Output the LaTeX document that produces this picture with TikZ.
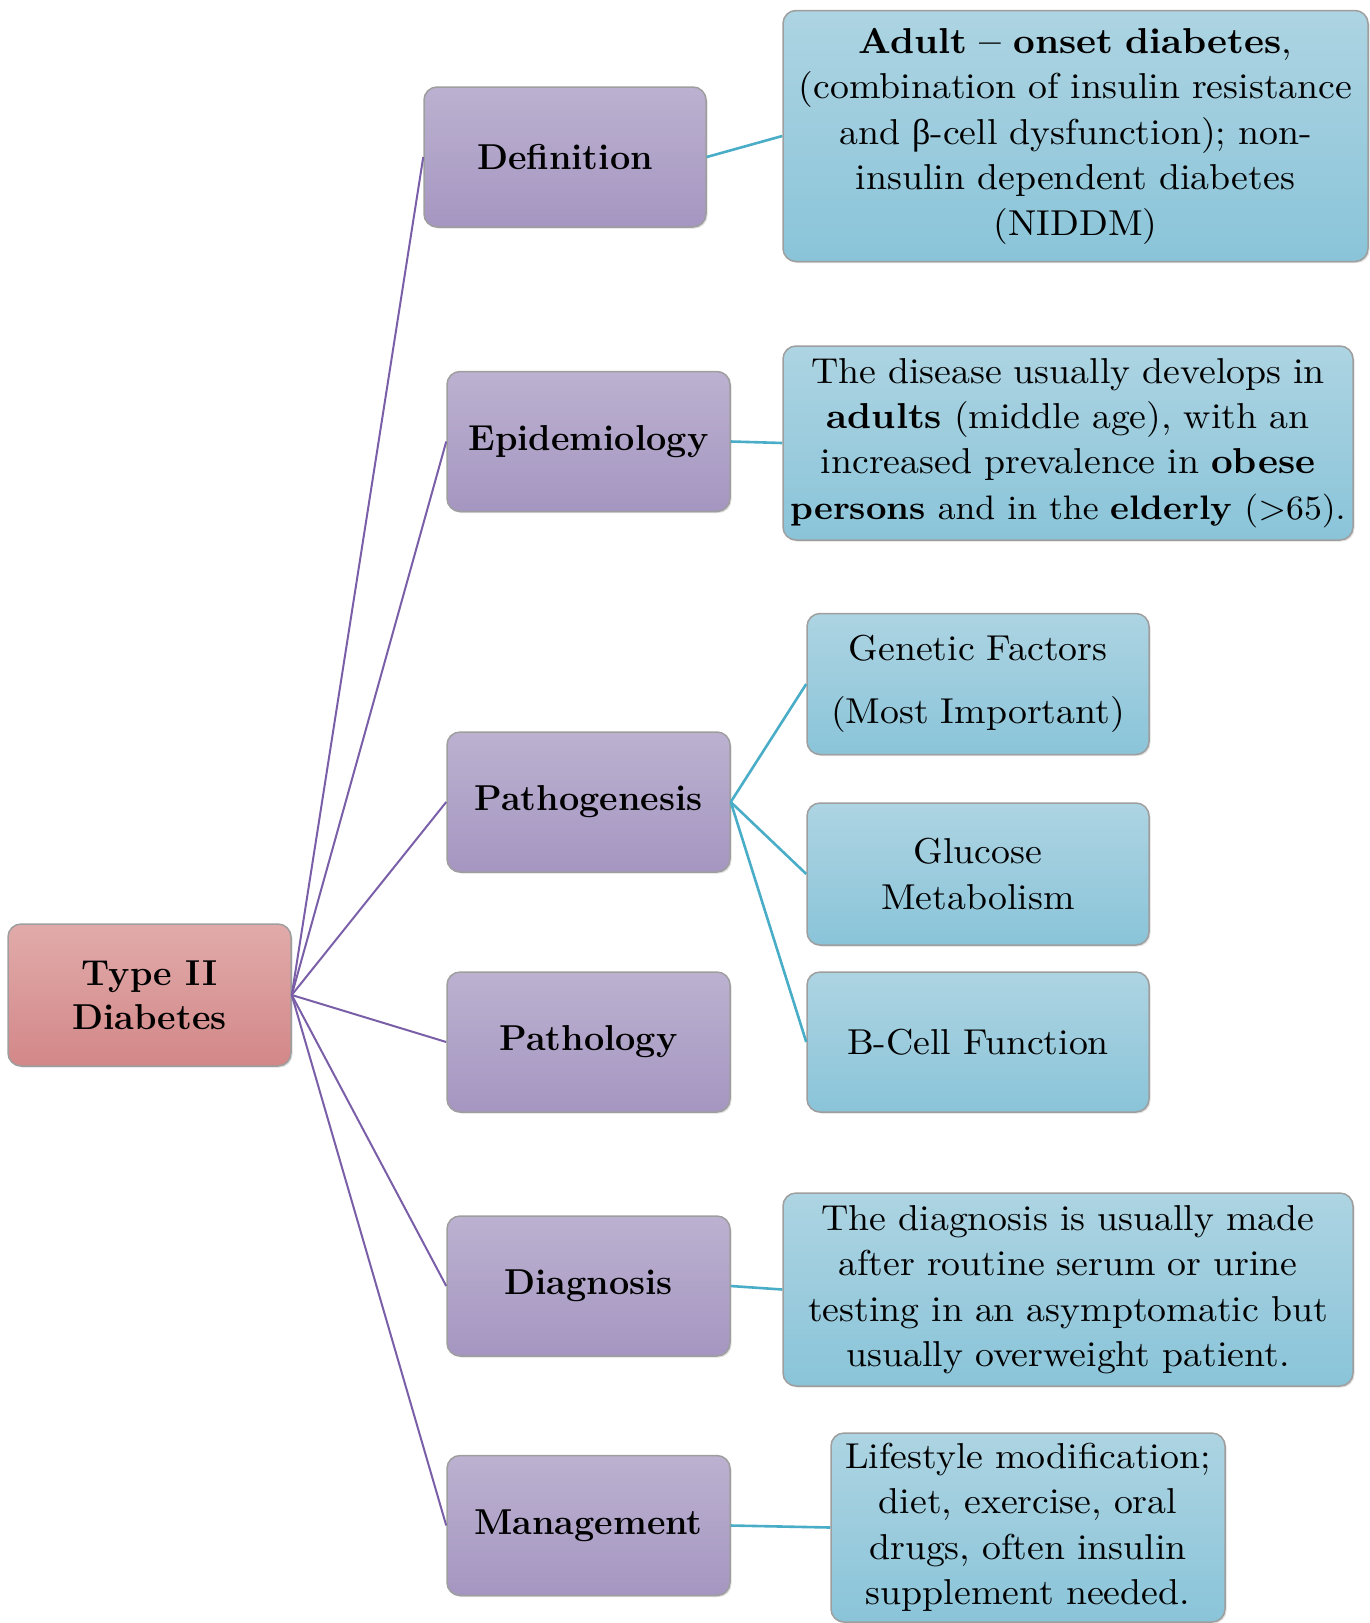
\documentclass[tikz,border=0pt]{standalone}
\usepackage{fontspec}
\newfontfamily\grk{Liberation Serif}
\newfontfamily\dfont{lmroman10-regular.otf}[BoldFont=lmroman10-bold.otf, FakeStretch=1.05, Ligatures=TeX]
\usetikzlibrary{shadows}
\definecolor{pTop}{HTML}{BCB1D0}
\definecolor{pBot}{HTML}{A596C1}
\definecolor{rTop}{HTML}{E1ABAA}
\definecolor{rBot}{HTML}{D38788}
\definecolor{bTop}{HTML}{ADD4E2}
\definecolor{bBot}{HTML}{8AC4D9}
\definecolor{pLine}{HTML}{7A5FA8}
\definecolor{bLine}{HTML}{4AADC8}
\definecolor{edge}{HTML}{9E9E9E}
\tikzset{
  base/.style={rounded corners=13pt, draw=edge, line width=1.5pt, align=center,
    drop shadow={shadow xshift=1.5pt, shadow yshift=-1.5pt, opacity=0.25}},
  redbox/.style={base, top color=rTop, bottom color=rBot, minimum width=283pt, minimum height=142pt,
    font=\fontsize{36}{44}\selectfont\bfseries},
  purbox/.style={base, top color=pTop, bottom color=pBot, minimum width=283pt, minimum height=140pt,
    font=\fontsize{36}{44}\selectfont\bfseries},
  bluebox/.style={base, top color=bTop, bottom color=bBot, inner sep=0pt,
    font=\dfont\fontsize{36}{45.5}\selectfont},
  pl/.style={draw=pLine, line width=2pt},
  bl/.style={draw=bLine, line width=2.6pt},
}
\begin{document}
\begin{tikzpicture}[x=1pt, y=-1pt]
\useasboundingbox (0,0) rectangle (1369,1623);
% main nodes
\node[redbox] (t2) at (149.5,995) {Type II\\Diabetes};
\node[purbox, minimum width=282pt] (def) at (565,157) {Definition};
\node[purbox] (epi) at (588.5,441.5) {Epidemiology};
\node[purbox] (pg) at (588.5,802) {Pathogenesis};
\node[purbox] (pl) at (588.5,1042) {Pathology};
\node[purbox] (dg) at (588.5,1286) {Diagnosis};
\node[purbox] (mg) at (588.5,1525.5) {Management};
% detail nodes
\node[bluebox, minimum width=585pt, minimum height=251pt, text width=585pt] (d1) at (1075.5,136)
  {\textbf{Adult -- onset diabetes},\\(combination of insulin resistance\\and {\grk β}-cell dysfunction); non-\\insulin dependent diabetes\\(NIDDM)};
\node[bluebox, minimum width=570pt, minimum height=194pt, text width=570pt] (d2) at (1068,443)
  {The disease usually develops in\\\textbf{adults} (middle age), with an\\increased prevalence in \textbf{obese}\\\makebox[\linewidth]{\fontsize{34}{45.5}\selectfont\textbf{persons} and in the \textbf{elderly} (>65).}};
\node[bluebox, minimum width=342pt, minimum height=141pt, text width=342pt] (g1) at (978,684)
  {Genetic Factors\\[18pt](Most Important)};
\node[bluebox, minimum width=342pt, minimum height=142pt, text width=342pt] (g2) at (978,874)
  {Glucose\\Metabolism};
\node[bluebox, minimum width=342pt, minimum height=140pt, text width=342pt] (g3) at (978,1042)
  {B-Cell Function};
\node[bluebox, minimum width=570pt, minimum height=193pt, text width=570pt] (d3) at (1068,1289.5)
  {The diagnosis is usually made\\after routine serum or urine\\testing in an asymptomatic but\\usually overweight patient.};
\node[bluebox, minimum width=394pt, minimum height=189pt, text width=394pt] (d4) at (1028,1527.5)
  {Lifestyle modification;\\diet, exercise, oral\\drugs, often insulin\\supplement needed.};
% connectors
\foreach \n in {def,epi,pg,pl,dg,mg} \draw[pl] (t2.east) -- (\n.west);
\draw[bl] (def.east) -- (d1.west);
\draw[bl] (epi.east) -- (d2.west);
\draw[bl] (pg.east) -- (g1.west);
\draw[bl] (pg.east) -- (g2.west);
\draw[bl] (pg.east) -- (g3.west);
\draw[bl] (dg.east) -- (d3.west);
\draw[bl] (mg.east) -- (d4.west);
\end{tikzpicture}
\end{document}
